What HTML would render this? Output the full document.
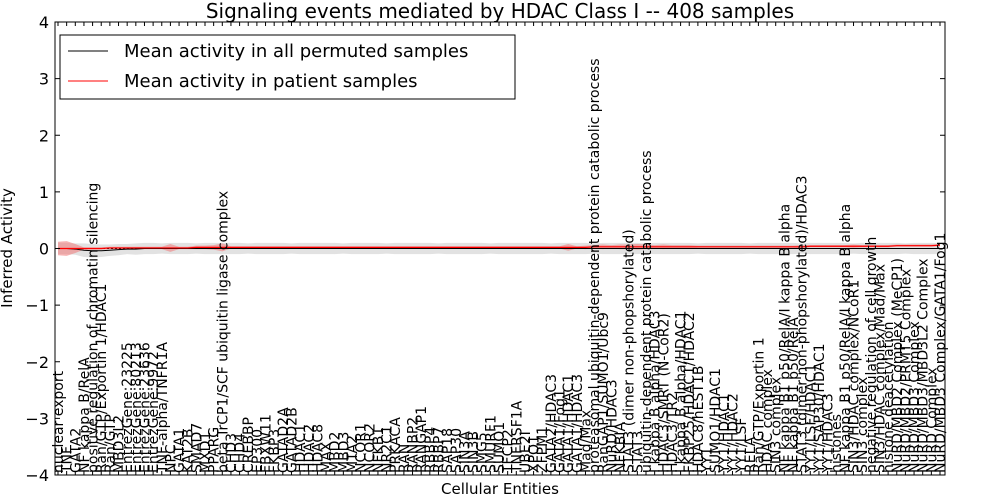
<!DOCTYPE html>
<html><head><meta charset="utf-8"><style>
html,body{margin:0;padding:0;background:#fff;}
svg{display:block;font-family:"DejaVu Sans","Liberation Sans",sans-serif;}
</style></head><body>
<svg id="chart" width="1000" height="500" viewBox="0 0 1000 500">
<rect x="0" y="0" width="1000" height="500" fill="#fff"/>
<text x="500" y="18" text-anchor="middle" font-size="20">Signaling events mediated by HDAC Class I -- 408 samples</text>
<g id="plot"></g>
<rect x="55" y="22" width="890" height="453" fill="none" stroke="#000" stroke-width="1"/>
<g id="yaxis"></g>
<g id="xaxis"></g>
<text x="500" y="494" text-anchor="middle" font-size="15">Cellular Entities</text>
<text transform="translate(12,248) rotate(-90)" text-anchor="middle" font-size="15">Inferred Activity</text>
<g>
<rect x="60" y="35" width="455" height="64" fill="#fff" stroke="#000"/>
<line x1="68" y1="51" x2="108" y2="51" stroke="#000" stroke-width="1"/>
<text x="124" y="57" font-size="18">Mean activity in all permuted samples</text>
<line x1="68" y1="81" x2="108" y2="81" stroke="#f00" stroke-width="1"/>
<text x="124" y="87" font-size="18">Mean activity in patient samples</text>
</g>
</svg>
<script>
const categories=["nuclear export","TNF","GATA2","NF kappa B/RelA","positive regulation of chromatin silencing","Ran/GTP/Exportin 1/HDAC1","Ran/GTP","MBD3L2","EntrezGene:23225","EntrezGene:80213","EntrezGene:23636","EntrezGene:9972","TNF-alpha/TNFR1A","NPC","GATA1","KAT2B","SMAD7","MXD1","PPARG","beta TrCP1/SCF ubiquitin ligase complex","CHD3","CHD4","CREBBP","EP300","FBXW11","FKBP3","GATAD2A","GATAD2B","HDAC1","HDAC2","HDAC8","MAX","MBD2","MBD3","MTA2","NCOR1","NCOR2","NFKB1","NR2C1","PRKACA","RAN","RANBP2","RANGAP1","RBBP4","RBBP7","SAP18","SAP30","SIN3A","SIN3B","SMG5","SMURF1","SUMO1","TFCP2","TNFRSF1A","UBE2I","XPO1","ZFPM1","GATA2/HDAC3","GATA1/Fog1","GATA1/HDAC1","GATA1/HDAC3","Mad/Max","proteasomal ubiquitin-dependent protein catabolic process","RanGAP1/SUMO1/Ubc9","NuRD/HDAC3","NFKBIA","STAT3 (dimer non-phopshorylated)","STAT3","ubiquitin-dependent protein catabolic process","I kappa B alpha/HDAC3","HDAC3/SMRT (N-CoR2)","HDAC3/TR2","I kappa B alpha/HDAC1","FKBP25/HDAC1/HDAC2","HDAC8/hEST1B","YY1","SUMO1/HDAC1","YY1/HDAC1","YY1/HDAC2","YY1/LSF","RELA","Ran/GTP/Exportin 1","HDAC complex","SIN3 complex","NF kappa B1 p50/RelA/I kappa B alpha","NF kappa B1 p50/RelA","STAT3 (dimer non-phopshorylated)/HDAC3","YY1/LSF/HDAC1","YY1/SAP30/HDAC1","YY1/HDAC3","histones","NF kappa B1 p50/RelA/I kappa B alpha","SIN3/HDAC complex/NCoR1","SIN3 complex","negative regulation of cell growth","SIN3/HDAC complex/Mad/Max","histone deacetylation","NuRD/MBD2 Complex (MeCP1)","NuRD/MBD2/PRMT5 Complex","NuRD/MBD3 Complex","NuRD/MBD3/MBD3L2 Complex","NuRD Complex","NuRD/MBD3 Complex/GATA1/Fog1"];
const patientMean=[0.0,0.0,0.0,0.0,0.0,0.0,0.01,0.01,0.01,0.01,0.01,0.01,0.01,0.01,0.01,0.01,0.02,0.02,0.02,0.02,0.02,0.02,0.02,0.02,0.02,0.02,0.02,0.02,0.02,0.02,0.02,0.02,0.02,0.02,0.02,0.02,0.02,0.02,0.02,0.02,0.02,0.02,0.02,0.02,0.02,0.02,0.02,0.02,0.02,0.02,0.02,0.02,0.02,0.02,0.02,0.02,0.02,0.02,0.02,0.02,0.02,0.02,0.03,0.03,0.03,0.03,0.03,0.03,0.03,0.03,0.03,0.03,0.03,0.03,0.03,0.03,0.03,0.03,0.03,0.03,0.03,0.03,0.03,0.03,0.03,0.03,0.03,0.04,0.04,0.04,0.04,0.04,0.04,0.04,0.04,0.04,0.04,0.05,0.05,0.05,0.05,0.05,0.06,0.06,0.07];
const patientSpread=[0.12,0.13,0.08,0.02,0.02,0.02,0.02,0.02,0.02,0.02,0.02,0.02,0.02,0.07,0.02,0.02,0.03,0.03,0.04,0.07,0.02,0.02,0.02,0.02,0.02,0.02,0.02,0.02,0.02,0.02,0.02,0.02,0.02,0.02,0.02,0.02,0.02,0.02,0.02,0.02,0.02,0.02,0.02,0.02,0.02,0.02,0.02,0.02,0.02,0.02,0.02,0.02,0.02,0.02,0.02,0.02,0.02,0.02,0.02,0.06,0.02,0.03,0.03,0.04,0.03,0.04,0.04,0.05,0.04,0.03,0.04,0.03,0.03,0.03,0.02,0.02,0.02,0.02,0.02,0.02,0.02,0.02,0.02,0.02,0.02,0.02,0.03,0.02,0.02,0.02,0.02,0.02,0.03,0.02,0.02,0.02,0.02,0.02,0.02,0.02,0.02,0.02,0.02,0.03];
const permutedMean=[0.0,0.0,-0.01,-0.03,-0.04,-0.04,-0.03,-0.02,-0.01,-0.01,0.0,0.0,0.0,0.0,0.0,0.0,0.0,0.0,0.0,0.0,0.0,0.0,0.0,0.0,0.0,0.0,0.0,0.0,0.0,0.0,0.0,0.0,0.0,0.0,0.0,0.0,0.0,0.0,0.0,0.0,0.0,0.0,0.0,0.0,0.0,0.0,0.0,0.0,0.0,0.0,0.0,0.0,0.0,0.0,0.0,0.0,0.0,0.0,0.0,0.0,0.0,0.0,0.0,0.0,0.0,0.0,0.0,0.0,0.0,0.0,0.0,0.0,0.0,0.0,0.0,0.0,0.0,0.0,0.0,0.0,0.0,0.0,0.0,0.0,0.0,0.0,0.0,0.0,0.0,0.0,0.0,0.0,0.0,0.0,0.0,0.0,0.0,0.0,0.0,0.0,0.0,0.0,0.0,0.0,0.0];
const permutedSpread=[0.1,0.1,0.1,0.12,0.12,0.11,0.1,0.1,0.09,0.1,0.1,0.1,0.09,0.1,0.1,0.1,0.09,0.1,0.1,0.1,0.1,0.1,0.09,0.1,0.1,0.1,0.1,0.09,0.1,0.1,0.1,0.1,0.1,0.09,0.1,0.1,0.1,0.1,0.09,0.1,0.1,0.1,0.1,0.1,0.09,0.1,0.1,0.1,0.1,0.1,0.09,0.1,0.1,0.1,0.1,0.1,0.1,0.09,0.1,0.1,0.1,0.1,0.09,0.1,0.1,0.1,0.1,0.1,0.09,0.1,0.1,0.1,0.1,0.1,0.09,0.1,0.1,0.1,0.1,0.1,0.09,0.1,0.1,0.1,0.1,0.1,0.09,0.1,0.1,0.1,0.1,0.1,0.09,0.1,0.1,0.1,0.1,0.1,0.09,0.1,0.1,0.1,0.1,0.1,0.1];
const yTicks=[-4,-3,-2,-1,0,1,2,3,4];

const NS="http://www.w3.org/2000/svg";
const X0=55,X1=945,Y0=22,Y1=475,YMIN=-4,YMAX=4;
const n=categories.length;
function xs(i){return 58+i*(940-58)/(n-1);}
function ys(v){return Y1-(v-YMIN)/(YMAX-YMIN)*(Y1-Y0);}
function mk(tag,attrs,parent){const e=document.createElementNS(NS,tag);for(const k in attrs)e.setAttribute(k,attrs[k]);parent.appendChild(e);return e;}
const plot=document.getElementById('plot'),ya=document.getElementById('yaxis'),xa=document.getElementById('xaxis');
function band(mean,spread){let up=[],dn=[];for(let i=0;i<n;i++){up.push(xs(i)+','+ys(mean[i]+spread[i]));dn.unshift(xs(i)+','+ys(mean[i]-spread[i]));}return 'M'+up.join(' L')+' L'+dn.join(' L')+'Z';}
function line(mean){let p=[];for(let i=0;i<n;i++)p.push(xs(i)+','+ys(mean[i]));return 'M'+p.join(' L');}
const gb=mk('path',{d:band(permutedMean,permutedSpread),fill:'#d8d8d8','fill-opacity':'0.75',stroke:'none'},plot);


const rb=mk('path',{d:band(patientMean,patientSpread),fill:'#f08080','fill-opacity':'0.6',stroke:'none'},plot);


const zl=mk('line',{x1:X0,x2:X1,y1:ys(0),y2:ys(0),stroke:'#000','stroke-width':1,'stroke-dasharray':'2,2'},plot);


const bl=mk('path',{d:line(permutedMean),fill:'none',stroke:'#000','stroke-width':1},plot);


const rl=mk('path',{d:line(patientMean),fill:'none',stroke:'#f00','stroke-width':1.2},plot);


yTicks.forEach(v=>{
  const y=ys(v);
  mk('line',{x1:X0,x2:X0+5,y1:y,y2:y,stroke:'#000'},ya);
  mk('line',{x1:X1-5,x2:X1,y1:y,y2:y,stroke:'#000'},ya);
  const t=mk('text',{x:X0-6,y:y+6,'text-anchor':'end','font-size':16},ya);
  t.textContent=(v<0?'\u2212'+(-v):String(v));
  
  
});
categories.forEach((c,i)=>{
  const x=xs(i);
  mk('line',{x1:x,x2:x,y1:Y1,y2:Y1-4,stroke:'#000'},xa);
  mk('line',{x1:x,x2:x,y1:Y0,y2:Y0+4,stroke:'#000'},xa);
  const t=mk('text',{transform:'translate('+(x+5)+','+(Y1-2)+') rotate(-90)','font-size':14},xa);
  t.textContent=c;
  
  
});
</script>
</body></html>
